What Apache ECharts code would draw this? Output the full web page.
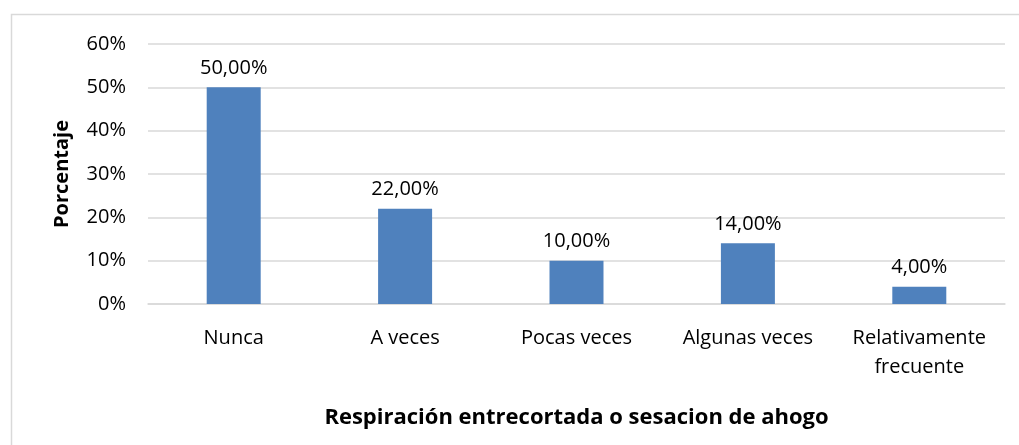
<!DOCTYPE html>
<html>
<head>
<meta charset="utf-8">
<script src="https://cdn.jsdelivr.net/npm/echarts@6/dist/echarts.min.js"></script>
<style>
  html, body { margin: 0; padding: 0; background: #fff; }
  #chart { width: 1019px; height: 445px; }
</style>
</head>
<body>
<div id="chart"></div>
<script>
const categories = ['Nunca', 'A veces', 'Pocas veces', 'Algunas veces', 'Relativamente\nfrecuente'];
const values = [50, 22, 10, 14, 4];
const yTicks = [0, 10, 20, 30, 40, 50, 60];

const font = "'Open Sans', 'Noto Sans', sans-serif";

const chart = echarts.init(document.getElementById('chart'));

chart.setOption({
  animation: false,
  textStyle: { fontFamily: font },
  graphic: [{
    type: 'rect',
    shape: { x: 11.5, y: 14.5, width: 1030, height: 460 },
    style: { fill: 'none', stroke: '#d9d9d9', lineWidth: 1.5 },
    silent: true
  }],
  grid: { left: 148, right: 14, top: 44, bottom: 141 },
  xAxis: {
    type: 'category',
    data: categories,
    name: 'Respiración entrecortada o sesacion de ahogo',
    nameLocation: 'middle',
    nameGap: 103,
    nameTextStyle: { fontFamily: font, fontSize: 22, fontWeight: 'bold', color: '#000' },
    axisLine: { lineStyle: { color: '#d9d9d9', width: 1.5 } },
    axisTick: { show: false },
    axisLabel: { fontFamily: font, fontSize: 20, color: '#000', margin: 20, lineHeight: 29, interval: 0 }
  },
  yAxis: {
    type: 'value',
    min: 0,
    max: yTicks[yTicks.length - 1],
    interval: 10,
    name: 'Porcentaje',
    nameLocation: 'middle',
    nameGap: 76,
    nameTextStyle: { fontFamily: font, fontSize: 20, fontWeight: 'bold', color: '#000' },
    axisLine: { show: false },
    axisTick: { show: false },
    splitLine: { lineStyle: { color: '#d9d9d9', width: 1.5 } },
    axisLabel: { fontFamily: font, fontSize: 20, color: '#000', margin: 22, formatter: v => v + '%' }
  },
  series: [{
    type: 'bar',
    data: values,
    barWidth: '31.5%',
    itemStyle: { color: '#4f81bd' },
    label: {
      show: true,
      position: 'top',
      distance: 9,
      fontFamily: font,
      fontSize: 20,
      color: '#000',
      formatter: p => p.value.toFixed(2).replace('.', ',') + '%'
    }
  }]
});
</script>
</body>
</html>
